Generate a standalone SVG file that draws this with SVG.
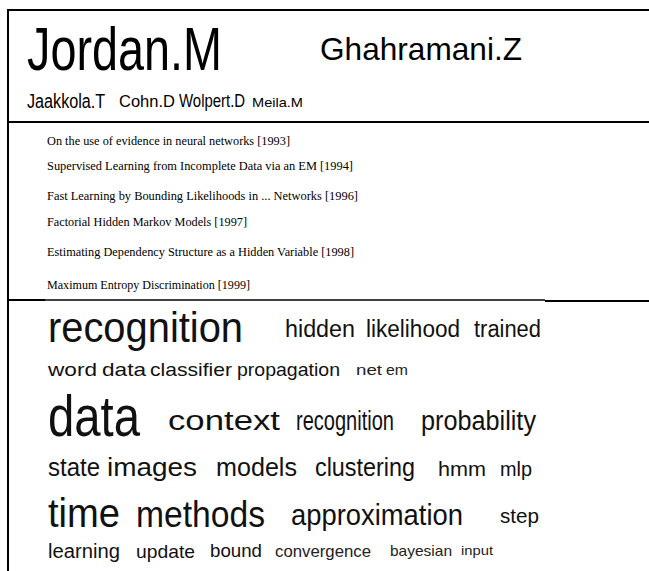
<svg xmlns="http://www.w3.org/2000/svg" width="649" height="571" viewBox="0 0 649 571">
<style>
.s{font-family:"Liberation Sans",Arial,sans-serif;fill:#000}
.t{font-family:"Liberation Serif","Times New Roman",serif;font-size:13.5px;fill:#000}
.w{font-family:"Liberation Sans",Arial,sans-serif;fill:#111}
.g{fill:#222}
.ln{stroke:#000;stroke-width:2;fill:none}
</style>
<rect width="649" height="571" fill="#fff"/>
<g id="frame">
<line class="ln" x1="8" y1="10" x2="649" y2="10"/>
<line class="ln" x1="8" y1="9" x2="8" y2="571"/>
<line class="ln" x1="8" y1="122" x2="649" y2="122"/>
<line class="ln" x1="8" y1="300" x2="45" y2="300"/>
<line stroke="#000" stroke-width="1.5" x1="45" y1="300" x2="545" y2="300"/>
<line class="ln" x1="545" y1="301" x2="649" y2="301"/>
</g>
<g id="authors">
<text class="s" x="27" y="70" font-size="61" textLength="195" lengthAdjust="spacingAndGlyphs">Jordan.M</text>
<text class="s" x="320" y="60" font-size="32" textLength="202" lengthAdjust="spacingAndGlyphs">Ghahramani.Z</text>
<text class="s" transform="translate(27,108) scale(0.77,1)" font-size="21">Jaakkola.T</text>
<text class="s" x="119" y="107" font-size="16.5">Cohn.D</text>
<text class="s" transform="translate(179,107) scale(0.83,1)" font-size="18">Wolpert.D</text>
<text class="s" x="252" y="107" font-size="13" textLength="51" lengthAdjust="spacingAndGlyphs">Meila.M</text>
</g>
<g id="papers">
<text class="t" x="47" y="145" textLength="243" lengthAdjust="spacingAndGlyphs">On the use of evidence in neural networks [1993]</text>
<text class="t" x="47" y="170" textLength="306" lengthAdjust="spacingAndGlyphs">Supervised Learning from Incomplete Data via an EM [1994]</text>
<text class="t" x="47" y="200" textLength="311" lengthAdjust="spacingAndGlyphs">Fast Learning by Bounding Likelihoods in ... Networks [1996]</text>
<text class="t" x="47" y="226" textLength="200" lengthAdjust="spacingAndGlyphs">Factorial Hidden Markov Models [1997]</text>
<text class="t" x="47" y="256" textLength="307" lengthAdjust="spacingAndGlyphs">Estimating Dependency Structure as a Hidden Variable [1998]</text>
<text class="t" x="47" y="289" textLength="203" lengthAdjust="spacingAndGlyphs">Maximum Entropy Discrimination [1999]</text>
</g>
<g id="terms">
<text class="w" x="48" y="342" font-size="42" textLength="195" lengthAdjust="spacingAndGlyphs" fill="#000">recognition</text>
<text class="w" x="285" y="337" font-size="23" textLength="70" lengthAdjust="spacingAndGlyphs">hidden</text>
<text class="w" x="366" y="337" font-size="23" textLength="94" lengthAdjust="spacingAndGlyphs">likelihood</text>
<text class="w" x="474" y="337" font-size="23" textLength="67" lengthAdjust="spacingAndGlyphs">trained</text>
<text class="w" x="48" y="376" font-size="19" textLength="49" lengthAdjust="spacingAndGlyphs">word</text>
<text class="w" x="102" y="376" font-size="19" textLength="44" lengthAdjust="spacingAndGlyphs">data</text>
<text class="w" x="150" y="376" font-size="19" textLength="82" lengthAdjust="spacingAndGlyphs">classifier</text>
<text class="w" x="237" y="376" font-size="19" textLength="103" lengthAdjust="spacingAndGlyphs">propagation</text>
<text class="w g" x="356" y="375" font-size="14" textLength="26" lengthAdjust="spacingAndGlyphs">net</text>
<text class="w g" x="386" y="375" font-size="14" textLength="22" lengthAdjust="spacingAndGlyphs">em</text>
<text class="w" x="48" y="436" font-size="58" textLength="92" lengthAdjust="spacingAndGlyphs" fill="#000">data</text>
<text class="w" x="168" y="430" font-size="27" textLength="112" lengthAdjust="spacingAndGlyphs">context</text>
<text class="w" x="296" y="430" font-size="27" textLength="98" lengthAdjust="spacingAndGlyphs">recognition</text>
<text class="w" x="421" y="430" font-size="27" textLength="115" lengthAdjust="spacingAndGlyphs">probability</text>
<text class="w" x="48" y="476" font-size="25" textLength="52" lengthAdjust="spacingAndGlyphs">state</text>
<text class="w" x="107" y="476" font-size="25" textLength="90" lengthAdjust="spacingAndGlyphs">images</text>
<text class="w" x="216" y="476" font-size="25" textLength="81" lengthAdjust="spacingAndGlyphs">models</text>
<text class="w" x="315" y="476" font-size="25" textLength="100" lengthAdjust="spacingAndGlyphs">clustering</text>
<text class="w" x="438" y="476" font-size="20" textLength="48" lengthAdjust="spacingAndGlyphs">hmm</text>
<text class="w" x="500" y="476" font-size="20" textLength="32" lengthAdjust="spacingAndGlyphs">mlp</text>
<text class="w" x="48" y="527" font-size="40" textLength="72" lengthAdjust="spacingAndGlyphs" fill="#000">time</text>
<text class="w" x="136" y="527" font-size="36" textLength="129" lengthAdjust="spacingAndGlyphs" fill="#000">methods</text>
<text class="w" x="291" y="525" font-size="29" textLength="172" lengthAdjust="spacingAndGlyphs">approximation</text>
<text class="w" x="500" y="523" font-size="21" textLength="39" lengthAdjust="spacingAndGlyphs">step</text>
<text class="w" x="48" y="558" font-size="20" textLength="72" lengthAdjust="spacingAndGlyphs">learning</text>
<text class="w" x="136" y="558" font-size="19" textLength="59" lengthAdjust="spacingAndGlyphs">update</text>
<text class="w" x="210" y="557" font-size="19" textLength="52" lengthAdjust="spacingAndGlyphs">bound</text>
<text class="w g" x="275" y="557" font-size="17" textLength="96" lengthAdjust="spacingAndGlyphs">convergence</text>
<text class="w g" x="390" y="556" font-size="14.5" textLength="62" lengthAdjust="spacingAndGlyphs">bayesian</text>
<text class="w g" x="461" y="555" font-size="12.5" textLength="32" lengthAdjust="spacingAndGlyphs">input</text>
</g>
</svg>
